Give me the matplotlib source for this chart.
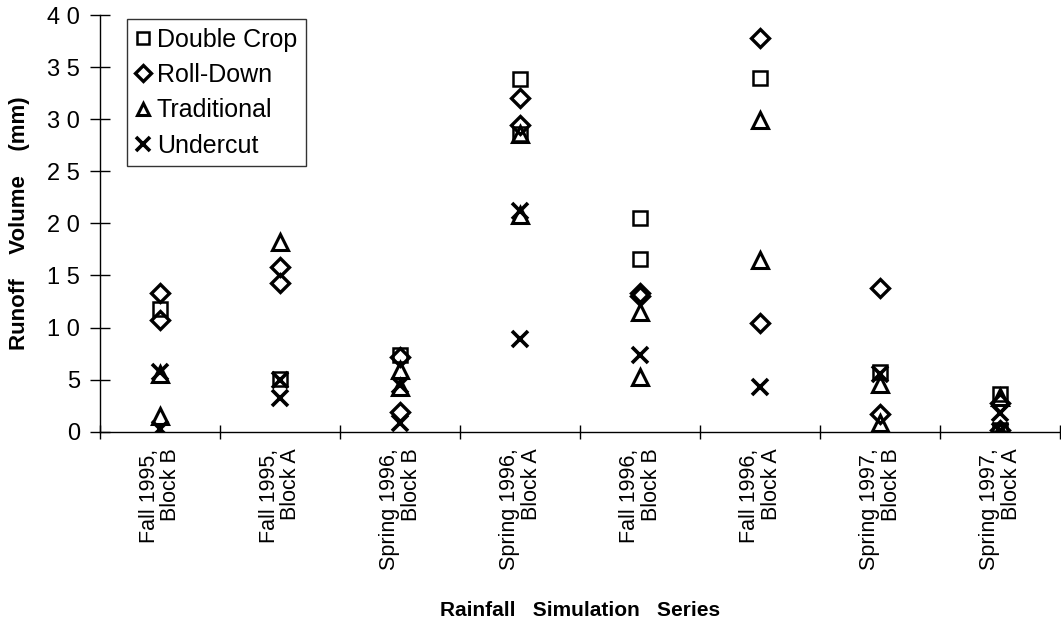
import numpy as np
import matplotlib
matplotlib.use("Agg")
import matplotlib.pyplot as plt

plt.rcParams['font.family'] = ['Liberation Sans', 'DejaVu Sans']

categories = ["Fall 1995,\nBlock B", "Fall 1995,\nBlock A", "Spring 1996,\nBlock B",
              "Spring 1996,\nBlock A", "Fall 1996,\nBlock B", "Fall 1996,\nBlock A",
              "Spring 1997,\nBlock B", "Spring 1997,\nBlock A"]

# two replicate plots per treatment and series (nan = not measured / hidden)
nan = np.nan
double_crop = [[11.8, 5.1, 7.4, 33.9, 20.5, 34.0, 5.7, 3.6],
               [nan, nan, nan, 28.6, 16.6, nan, nan, 0.2]]
roll_down = [[13.3, 15.8, 7.2, 32.0, 13.3, 37.8, 13.8, 2.8],
             [10.7, 14.3, 1.9, 29.4, 13.0, 10.4, 1.7, 0.2]]
traditional = [[5.5, 18.2, 5.9, 28.6, 11.5, 29.9, 4.6, 3.3],
               [1.5, nan, 4.3, 20.8, 5.3, 16.5, 0.8, 0.1]]
undercut = [[5.7, 5.0, 4.5, 21.2, 7.4, 4.3, 5.5, 1.8],
            [0.3, 3.2, 0.8, 8.9, nan, nan, nan, 0.1]]

yticks = [0, 5, 10, 15, 20, 25, 30, 35, 40]

fig = plt.figure(figsize=(10.61, 6.43), dpi=100)
ax = fig.add_axes([0.0943, 0.3286, 0.905, 0.648])

x = np.arange(len(categories))
series = [
    ("Double Crop", double_crop, dict(marker='s', markersize=10, mew=1.8, mfc='none')),
    ("Roll-Down", roll_down, dict(marker='D', markersize=9, mew=2.4, mfc='none')),
    ("Traditional", traditional, dict(marker='^', markersize=11, mew=2.2, mfc='none')),
    ("Undercut", undercut, dict(marker='x', markersize=12, mew=2.6)),
]
for name, vals, style in series:
    vals = np.array(vals, dtype=float)
    xs = np.concatenate([x, x])
    ys = vals.ravel()
    ax.plot(xs, ys, linestyle='none', color='black', mec='black', label=name, **style)

ax.set_xlim(-0.5, len(categories) - 0.5)
ax.set_ylim(0, 40)

# category boundaries as major ticks, names on minor ticks
ax.set_xticks(np.arange(len(categories) + 1) - 0.5)
ax.set_xticklabels([])
ax.set_xticks(x, minor=True)
ax.set_xticklabels(categories, minor=True, rotation=90, fontsize=15.5,
                   ha='center', va='top', multialignment='right', linespacing=1.05)
ax.tick_params(axis='x', which='major', direction='inout', length=10, width=1)
ax.tick_params(axis='x', which='minor', length=0, pad=12)

ax.set_yticks(yticks)
ax.set_yticklabels([" ".join(str(t)) for t in yticks], fontsize=17)
ax.tick_params(axis='y', direction='inout', length=15, width=1, pad=7)

for side in ['top', 'right']:
    ax.spines[side].set_visible(False)
for side in ['left', 'bottom']:
    ax.spines[side].set_linewidth(1)
    ax.spines[side].set_color('black')

ax.set_ylabel("Runoff    Volume    (mm)", fontsize=16, fontweight='bold', labelpad=12)
ax.set_xlabel("Rainfall   Simulation   Series", fontsize=15, fontweight='bold', labelpad=22)

leg = ax.legend(loc='upper left', bbox_to_anchor=(0.028, 0.99), fontsize=18,
                frameon=True, fancybox=False, borderpad=0.35, labelspacing=0.45,
                handlelength=0.6, handletextpad=0.25, borderaxespad=0)
leg.get_frame().set_edgecolor('black')
leg.get_frame().set_linewidth(1)
for h in leg.legend_handles:
    h.set_markersize(h.get_markersize() * 0.85)

fig.savefig("out.png", dpi=100)
